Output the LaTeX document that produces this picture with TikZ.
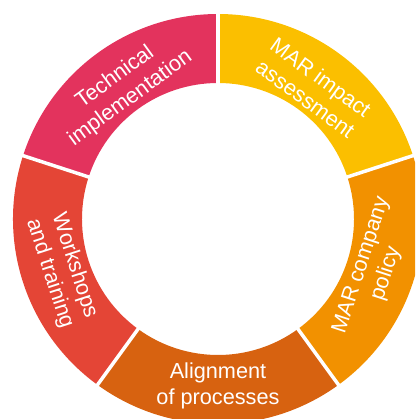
\documentclass[tikz,border=0pt]{standalone}
\usepackage{fontspec}
\setmainfont{Liberation Sans}
\usepackage{tikz}
\definecolor{techpink}{HTML}{E3335D}
\definecolor{maryellow}{HTML}{FBBF00}
\definecolor{policyorange}{HTML}{F29100}
\definecolor{alignorange}{HTML}{D76210}
\definecolor{workred}{HTML}{E44536}

\begin{document}
\begin{tikzpicture}[x=1pt, y=1pt,
    seglabel/.style={text=white, align=center, inner sep=0pt,
      font=\fontsize{21.7}{26}\selectfont}]
        \clip (-218, -200) rectangle (197, 219);

        \fill[techpink] (90:205) arc[start angle=90, end angle=162, radius=205]
          -- (162:136) arc[start angle=162, end angle=90, radius=136] -- cycle;
        \fill[maryellow] (18:205) arc[start angle=18, end angle=90, radius=205]
          -- (90:136) arc[start angle=90, end angle=18, radius=136] -- cycle;
        \fill[policyorange] (-54:205) arc[start angle=-54, end angle=18, radius=205]
          -- (18:136) arc[start angle=18, end angle=-54, radius=136] -- cycle;
        \fill[alignorange] (-126:205) arc[start angle=-126, end angle=-54, radius=205]
          -- (-54:136) arc[start angle=-54, end angle=-126, radius=136] -- cycle;
        \fill[workred] (162:205) arc[start angle=162, end angle=234, radius=205]
          -- (234:136) arc[start angle=234, end angle=162, radius=136] -- cycle;

        \draw[white, line width=3.5] (90:130) -- (90:212);
        \draw[white, line width=3.5] (18:130) -- (18:212);
        \draw[white, line width=3.5] (-54:130) -- (-54:212);
        \draw[white, line width=3.5] (-126:130) -- (-126:212);
        \draw[white, line width=3.5] (162:130) -- (162:212);

        \node[seglabel, rotate=36] (tech) at (126:162) {Technical\\implementation};
        \node[seglabel, rotate=-36] (impact) at (54:162) {MAR impact\\assessment};
        \node[seglabel, rotate=72] (policy) at (-18:164) {MAR company\\policy};
        \node[seglabel] (align) at (-90:167) {Alignment\\of processes};
        \node[seglabel, rotate=-72] (workshops) at (198:164) {Workshops\\and training};
      \end{tikzpicture}
\end{document}
